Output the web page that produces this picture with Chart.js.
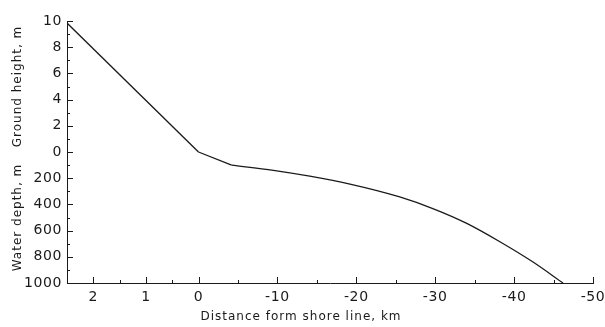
<!DOCTYPE html>
<html>
<head>
<meta charset="utf-8">
<script src="https://cdn.jsdelivr.net/npm/chart.js@4.4.1/dist/chart.umd.min.js"></script>
<style>
  html, body { margin: 0; padding: 0; background: #fff; }
  #wrap { width: 605px; height: 327px; }
</style>
</head>
<body>
<div id="wrap"><canvas id="profile" width="605" height="327"></canvas></div>
<script>
// land side (km inland, ground height in m)
const landKm = [2.5, 0];
const groundHeight = [9.85, 0];

// shelf and slope (km offshore as negative numbers, water depth in m)
const shelfKm = [0, -4.2];
const shelfDepth = [0, 100];
const slopeKm = [-4.2, -9.5, -14.1, -19.2, -25.5, -29.7, -34.0, -38.2, -42.4, -46.2];
const slopeDepth = [100, 140, 185, 245, 343, 432, 545, 685, 840, 1000];

// axis ticks
const xMajorKm = [2, 1, 0, -10, -20, -30, -40, -50];
const xMinorKm = [1.5, 0.5, -5, -15, -25, -35, -45];
const yMajor = [10, 8, 6, 4, 2, 0, -2, -4, -6, -8, -10];

const FONT = '"DejaVu Sans", Verdana, sans-serif';
const INK = '#1a1a1a';

// the land part (2.5 km) gets a quarter of the axis, the sea part (50 km) the rest
const LAND_SCALE = (50 / 3) / 2.5;
const toU = km => km > 0 ? -km * LAND_SCALE : -km;
const fromU = u => u < 0 ? -u / LAND_SCALE : -u;
// ground height goes up from 0, water depth goes down in units of 100 m
const depthToV = d => -d / 100;

const pts = (xs, ys, fy) => xs.map((x, i) => ({x: toU(x), y: fy(ys[i])}));

const innerTicks = {
    id: 'innerTicks',
    beforeDraw(chart) {
        // slightly spaced out tick labels
        chart.ctx.letterSpacing = '0.6px'
    },
    afterDraw(chart) {
        const ctx = chart.ctx, xs = chart.scales.x, ys = chart.scales.y
        const a = chart.chartArea
        ctx.save()
        ctx.strokeStyle = INK
        ctx.lineWidth = 1
        ctx.beginPath()
        // y ticks, pointing into the plot
        for (let v = -10; v <= 10; v++) {
            const y = Math.round(ys.getPixelForValue(v)) + 0.5
            const len = v % 2 === 0 ? 6 : 3
            ctx.moveTo(a.left, y)
            ctx.lineTo(a.left + len, y)
        }
        // x ticks
        xMajorKm.forEach(km => {
            const x = Math.round(xs.getPixelForValue(toU(km))) + 0.5
            ctx.moveTo(x, a.bottom)
            ctx.lineTo(x, a.bottom - 6)
        })
        xMinorKm.forEach(km => {
            const x = Math.round(xs.getPixelForValue(toU(km))) + 0.5
            ctx.moveTo(x, a.bottom)
            ctx.lineTo(x, a.bottom - 3)
        })
        ctx.stroke()

        // axis titles
        ctx.fillStyle = INK
        ctx.font = '12px ' + FONT
        ctx.letterSpacing = '1px'
        ctx.textAlign = 'center'
        ctx.textBaseline = 'middle'
        ctx.fillText('Distance form shore line, km', 301, 317)
        const midTop = (ys.getPixelForValue(10) + ys.getPixelForValue(0)) / 2
        const midBot = (ys.getPixelForValue(0) + ys.getPixelForValue(-10)) / 2
        ;[['Ground height, m', midTop], ['Water depth, m', midBot]].forEach(([t, y]) => {
            ctx.save()
            ctx.translate(18, y)
            ctx.rotate(-Math.PI / 2)
            ctx.fillText(t, 0, 0)
            ctx.restore()
        })
        ctx.restore()
    }
}

const lineStyle = {
    borderColor: INK,
    borderWidth: 1.3,
    pointRadius: 0,
    fill: false
}

new Chart(document.getElementById('profile'), {
    type: 'line',
    data: {
        datasets: [
            {...lineStyle, data: pts(landKm, groundHeight, h => h), tension: 0},
            {...lineStyle, data: pts(shelfKm, shelfDepth, depthToV), tension: 0},
            {...lineStyle, data: pts(slopeKm, slopeDepth, depthToV), cubicInterpolationMode: 'monotone'}
        ]
    },
    options: {
        responsive: false,
        animation: false,
        layout: {padding: {top: 21, right: 12, left: 0, bottom: 0}},
        plugins: {legend: {display: false}, tooltip: {enabled: false}},
        scales: {
            x: {
                type: 'linear',
                min: toU(2.5),
                max: 50,
                afterBuildTicks: s => { s.ticks = xMajorKm.map(km => ({value: toU(km)})) },
                afterFit: s => { s.height = 44; s.paddingLeft = 0; s.paddingRight = 0 },
                grid: {display: false, drawTicks: false},
                border: {display: true, color: INK, width: 1},
                ticks: {
                    color: INK,
                    font: {family: FONT, size: 14},
                    padding: 6,
                    maxRotation: 0,
                    autoSkip: false,
                    callback: v => {
                        const km = Math.round(fromU(v) * 10) / 10
                        return km === 0 ? '0' : String(km)
                    }
                }
            },
            y: {
                min: -10,
                max: 10,
                afterBuildTicks: s => { s.ticks = yMajor.map(v => ({value: v})) },
                afterFit: s => { s.width = 67 },
                grid: {display: false, drawTicks: false},
                border: {display: true, color: INK, width: 1},
                ticks: {
                    color: INK,
                    font: {family: FONT, size: 14},
                    padding: 5,
                    autoSkip: false,
                    callback: v => v >= 0 ? String(v) : String(-v * 100)
                }
            }
        }
    },
    plugins: [innerTicks]
})
</script>
</body>
</html>
